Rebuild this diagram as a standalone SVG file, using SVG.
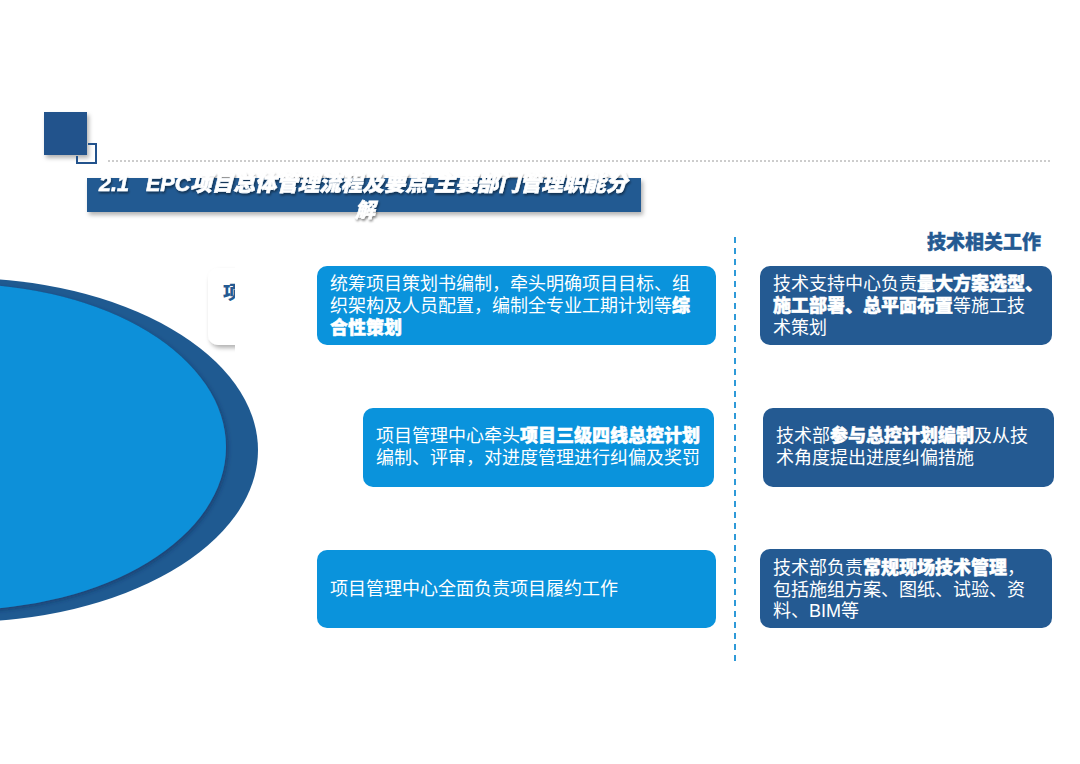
<svg xmlns="http://www.w3.org/2000/svg" width="1080" height="764" viewBox="0 0 1080 764">
<defs>
<style>
.t{font-family:"Liberation Sans","Noto Sans CJK SC",sans-serif;font-size:18px;fill:#ffffff}
.b{font-weight:900;stroke:#ffffff;stroke-width:0.5}
.lb{fill:#0a93dc}
.db{fill:#245a92}
</style>
<filter id="sh" x="-10%" y="-10%" width="130%" height="140%">
<feDropShadow dx="2" dy="3" stdDeviation="2" flood-color="#000" flood-opacity="0.3"/>
</filter>
<filter id="tsh" x="-5%" y="-20%" width="110%" height="160%">
<feDropShadow dx="1" dy="2" stdDeviation="1.2" flood-color="#000" flood-opacity="0.45"/>
</filter>
<filter id="esh" x="-20%" y="-20%" width="140%" height="140%">
<feDropShadow dx="2" dy="2" stdDeviation="2" flood-color="#0a2c55" flood-opacity="0.5"/>
</filter>
<clipPath id="cardclip"><rect x="200" y="260" width="35" height="100"/></clipPath>
</defs>
<rect width="1080" height="764" fill="#ffffff"/>

<g id="header">
<rect x="44" y="112" width="43" height="43" fill="#22528c" filter="url(#sh)"/>
<path d="M88 144 H96 V163 H77 V156" fill="none" stroke="#22528c" stroke-width="2"/>
<line x1="108" y1="161" x2="1052" y2="161" stroke="#9a9a9a" stroke-width="1" stroke-dasharray="2,2"/>
<rect x="87" y="178" width="554" height="34" fill="#245a92" filter="url(#sh)"/>
<g filter="url(#tsh)" font-family="Liberation Sans,Noto Sans CJK SC,sans-serif" font-weight="900" font-style="italic" fill="#ffffff" stroke="#ffffff" stroke-width="0.6">
<text x="99" y="191" font-size="21.5">2.1</text>
<text x="146" y="191" font-size="21.5">EPC项目总体管理流程及要点-主要部门管理职能分</text>
<text x="365" y="217" font-size="20" text-anchor="middle">解</text>
</g>
</g>

<g id="ellipse">
<ellipse cx="-40" cy="450" rx="298" ry="172" fill="#1f5a91"/>
<ellipse cx="-40" cy="447" rx="266" ry="163" fill="#0a90d9" filter="url(#esh)"/>
</g>

<g id="side-card">
<rect x="208" y="268" width="60" height="77" rx="10" fill="#ffffff" filter="url(#sh)" clip-path="url(#cardclip)"/>
<text x="223" y="299" clip-path="url(#cardclip)" font-family="Liberation Sans,Noto Sans CJK SC,sans-serif" font-size="18" font-weight="900" fill="#245a92">项目</text>
</g>

<g id="connectors">
<line x1="735" y1="237" x2="735" y2="663" stroke="#2e9ad8" stroke-width="2" stroke-dasharray="6,5"/>
</g>

<g id="left1">
<rect class="lb" x="317" y="266" width="399" height="79" rx="10"/>
<text class="t" x="330" y="290">统筹项目策划书编制，牵头明确项目目标、组</text>
<text class="t" x="330" y="312">织架构及人员配置，编制全专业工期计划等<tspan class="b">综</tspan></text>
<text class="t b" x="330" y="334">合性策划</text>
</g>

<g id="left2">
<rect class="lb" x="363" y="408" width="351" height="79" rx="10"/>
<text class="t" x="376" y="442">项目管理中心牵头<tspan class="b">项目三级四线总控计划</tspan></text>
<text class="t" x="376" y="464">编制、评审，对进度管理进行纠偏及奖罚</text>
</g>

<g id="left3">
<rect class="lb" x="317" y="550" width="399" height="78" rx="10"/>
<text class="t" x="330" y="595">项目管理中心全面负责项目履约工作</text>
</g>

<g id="right-title">
<text x="1041" y="249" text-anchor="end" font-family="Liberation Sans,Noto Sans CJK SC,sans-serif" font-size="19" font-weight="900" fill="#245a92" stroke="#245a92" stroke-width="0.4">技术相关工作</text>
</g>

<g id="right1">
<rect class="db" x="760" y="266" width="292" height="79" rx="10"/>
<text class="t" x="773" y="290">技术支持中心负责<tspan class="b">量大方案选型、</tspan></text>
<text class="t" x="773" y="312"><tspan class="b">施工部署、总平面布置</tspan>等施工技</text>
<text class="t" x="773" y="334">术策划</text>
</g>

<g id="right2">
<rect class="db" x="763" y="408" width="291" height="79" rx="10"/>
<text class="t" x="776" y="442">技术部<tspan class="b">参与总控计划编制</tspan>及从技</text>
<text class="t" x="776" y="464">术角度提出进度纠偏措施</text>
</g>

<g id="right3">
<rect class="db" x="760" y="549" width="292" height="79" rx="10"/>
<text class="t" x="773" y="574">技术部负责<tspan class="b">常规现场技术管理</tspan>，</text>
<text class="t" x="773" y="596">包括施组方案、图纸、试验、资</text>
<text class="t" x="773" y="617">料、BIM等</text>
</g>
</svg>
